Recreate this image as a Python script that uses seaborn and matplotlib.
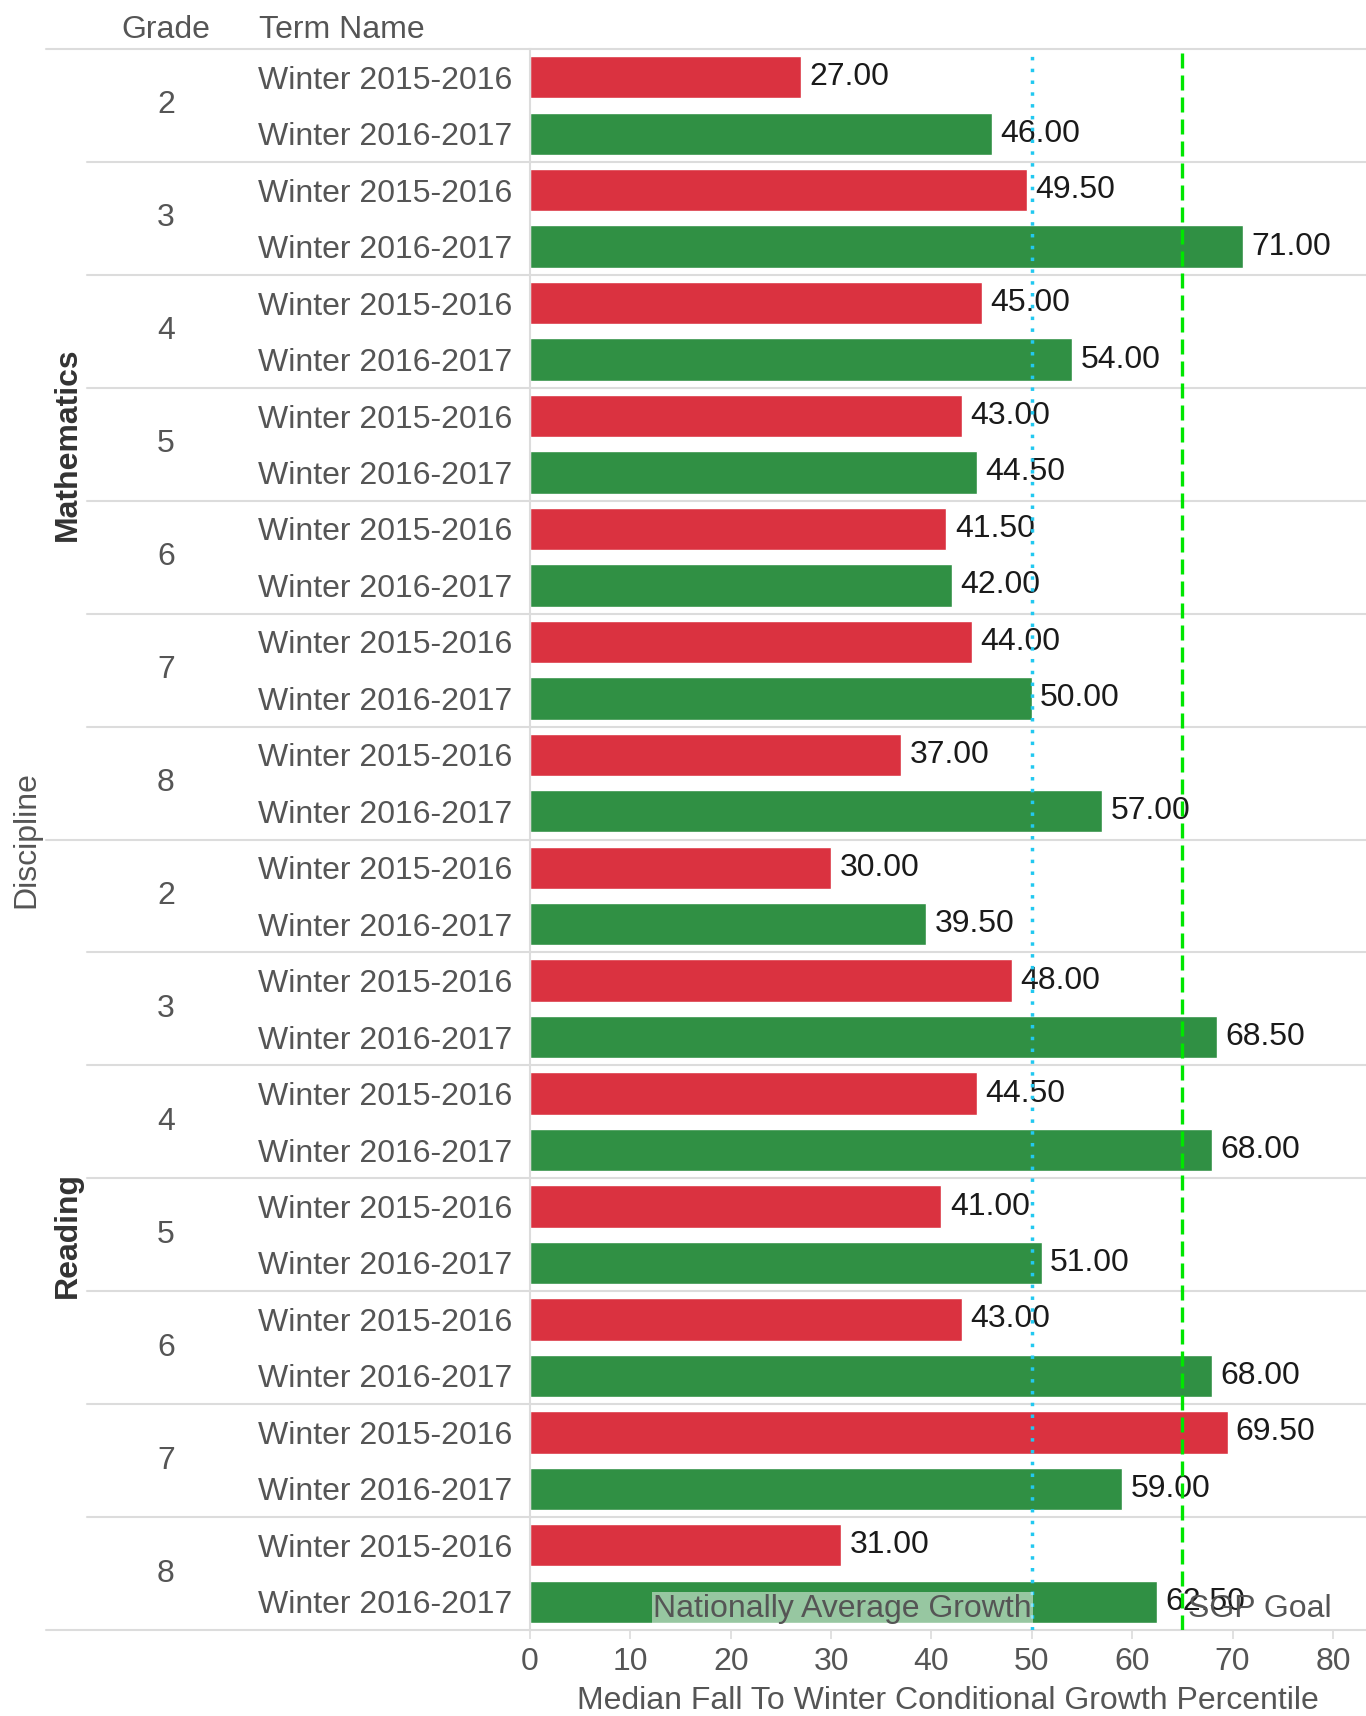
import pandas as pd
import seaborn as sns
import matplotlib.pyplot as plt
from matplotlib import transforms

# values
disciplines = ['Mathematics', 'Reading']
grades = [2, 3, 4, 5, 6, 7, 8]
terms = ['Winter 2015-2016', 'Winter 2016-2017']
math_1516 = [27.0, 49.5, 45.0, 43.0, 41.5, 44.0, 37.0]
math_1617 = [46.0, 71.0, 54.0, 44.5, 42.0, 50.0, 57.0]
read_1516 = [30.0, 48.0, 44.5, 41.0, 43.0, 69.5, 31.0]
read_1617 = [39.5, 68.5, 68.0, 51.0, 68.0, 59.0, 62.5]
national_avg = 50
sgp_goal = 65
x_ticks = [0, 10, 20, 30, 40, 50, 60, 70, 80]

RED = '#da3240'
GREEN = '#309044'
GRAY = '#555555'
LINE = '#dcdcdc'
FS = 23

sns.set_style('white')
plt.rcParams['font.family'] = ['Liberation Sans', 'DejaVu Sans']

rows = []
for disc, a_vals, b_vals in [('Mathematics', math_1516, math_1617),
                             ('Reading', read_1516, read_1617)]:
    for g, a, b in zip(grades, a_vals, b_vals):
        rows.append(dict(discipline=disc, grade=g, term=terms[0], value=a))
        rows.append(dict(discipline=disc, grade=g, term=terms[1], value=b))
df = pd.DataFrame(rows)
df['row'] = ['r%02d' % i for i in range(len(df))]

fig = plt.figure(figsize=(13.66, 17.16), dpi=100)
ax = fig.add_axes([530 / 1366, 1 - 1630 / 1716, 1 - 530 / 1366, (1630 - 49) / 1716])

sns.barplot(data=df, x='value', y='row', hue='term', order=df['row'],
            palette=[RED, GREEN], dodge=False, width=0.75, orient='h',
            saturation=1, legend=False, ax=ax)

for cont in ax.containers:
    ax.bar_label(cont, fmt='%.2f', padding=6, fontsize=FS, color='#1a1a1a')

ax.set_xlim(0, 83.3)
ax.set_ylim(len(df) - 0.5, -0.5)
ax.set_xticks(x_ticks)
ax.tick_params(axis='x', length=6.5, width=1.2, color=LINE, pad=6,
               labelsize=FS, labelcolor=GRAY, bottom=True)
ax.set_yticks(range(len(df)))
ax.set_yticklabels(df['term'])
ax.tick_params(axis='y', length=0, pad=13, labelsize=FS, labelcolor=GRAY)
ax.set_ylabel('')
ax.set_xlabel('Median Fall To Winter Conditional Growth Percentile',
              fontsize=FS, color=GRAY, labelpad=6)
for s in ['top', 'right', 'bottom']:
    ax.spines[s].set_visible(False)
ax.spines['left'].set_color(LINE)
ax.spines['left'].set_linewidth(1.5)

# reference lines
ax.axvline(national_avg, color='#22c8f0', lw=2.5, linestyle=(0, (1, 2.4)), zorder=5)
ax.axvline(sgp_goal, color='#00e600', lw=2.4, linestyle=(0, (4.5, 2.1)), zorder=5)
ax.text(national_avg, len(df) - 1 + 0.12, 'Nationally Average Growth', ha='right',
        va='center', fontsize=FS, color=GRAY, zorder=6,
        bbox=dict(facecolor='white', alpha=0.5, edgecolor='none', pad=1))
ax.text(sgp_goal + 0.6, len(df) - 1 + 0.12, 'SGP Goal', ha='left', va='center',
        fontsize=FS, color=GRAY, zorder=6)

# row header panel
blend = transforms.blended_transform_factory(fig.transFigure, ax.transData)
n_groups = len(disciplines) * len(grades)
for k in range(n_groups + 1):
    y = 2 * k - 0.5
    x0 = 0.034 if k % len(grades) == 0 else 0.064
    ax.plot([x0, 1], [y, y], transform=blend, color=LINE, lw=1.5, clip_on=False)

for k in range(n_groups):
    g = df['grade'].iloc[2 * k]
    ax.text(166 / 1366, 2 * k + 0.5, str(g), transform=blend, ha='center',
            va='center', fontsize=FS, color=GRAY)

for j, disc in enumerate(disciplines):
    yc = j * 2 * len(grades) + len(grades) - 0.5
    ax.text(68 / 1366, yc, disc, transform=blend, ha='center', va='center',
            rotation=90, fontsize=FS, color='#333333', fontweight='bold')
ax.text(26 / 1366, (len(df) - 1) / 2, 'Discipline', transform=blend, ha='center',
        va='center', rotation=90, fontsize=FS, color=GRAY)

fig.text(166 / 1366, 1 - 30 / 1716, 'Grade', ha='center', va='center',
         fontsize=FS, color=GRAY)
fig.text(259 / 1366, 1 - 30 / 1716, 'Term Name', ha='left', va='center',
         fontsize=FS, color=GRAY)

fig.savefig('out.png', dpi=100)
